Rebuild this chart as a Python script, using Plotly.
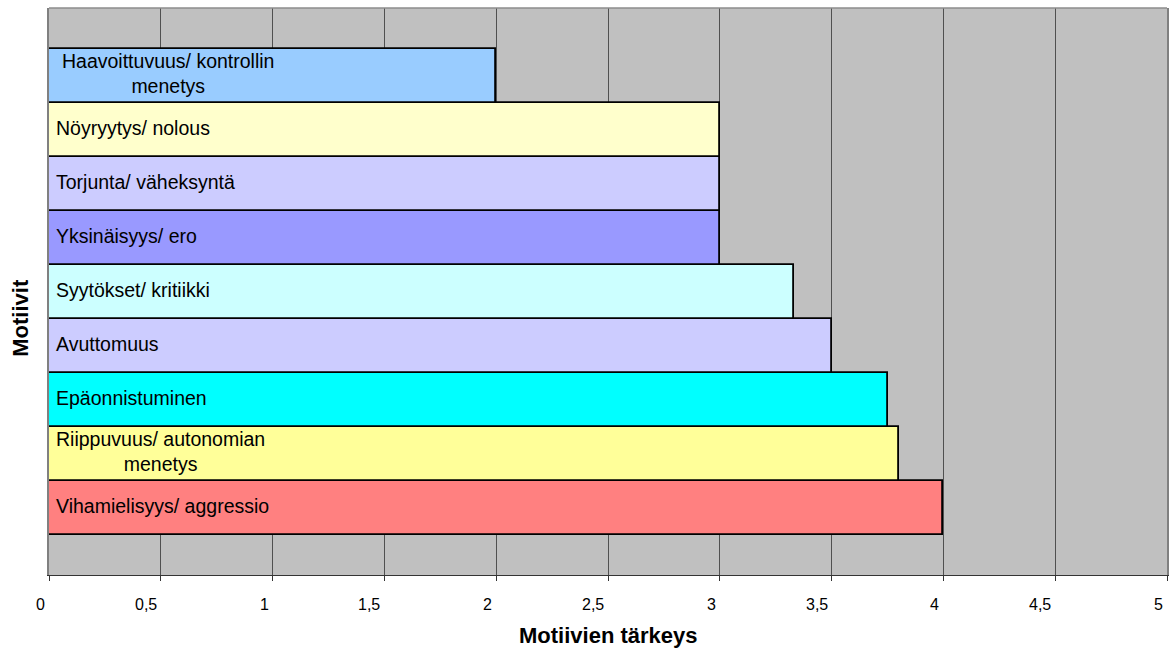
import plotly.graph_objects as go

# Motive categories (bottom to top) and their importance scores
motives = [
    "Vihamielisyys/ aggressio",
    "Riippuvuus/ autonomian<br>menetys",
    "Epäonnistuminen",
    "Avuttomuus",
    "Syytökset/ kritiikki",
    "Yksinäisyys/ ero",
    "Torjunta/ väheksyntä",
    "Nöyryytys/ nolous",
    "Haavoittuvuus/ kontrollin<br>menetys",
]
importance = [4.0, 3.8, 3.75, 3.5, 3.33, 3.0, 3.0, 3.0, 2.0]
bar_colors = [
    "#FF8080", "#FFFF99", "#00FFFF", "#CCCCFF", "#CCFFFF",
    "#9999FF", "#CCCCFF", "#FFFFCC", "#99CCFF",
]
tick_values = [0, 0.5, 1, 1.5, 2, 2.5, 3, 3.5, 4, 4.5, 5]
tick_labels = ["0", "0,5", "1", "1,5", "2", "2,5", "3", "3,5", "4", "4,5", "5"]

FONT = "Liberation Sans, Arial, sans-serif"

fig = go.Figure(
    go.Bar(
        x=importance,
        y=list(range(len(motives))),
        orientation="h",
        width=1,
        marker=dict(color=bar_colors, line=dict(color="#000000", width=1.8)),
        hoverinfo="skip",
    )
)

annotations = []
# Motive names written inside the bars
for i, name in enumerate(motives):
    annotations.append(dict(
        x=0, y=i, xref="x", yref="y",
        text=name, showarrow=False,
        xanchor="left", yanchor="middle", align="center",
        xshift=11 if name.startswith("Haavoittuvuus") else 5,
        yshift=2,
        font=dict(family=FONT, size=19.5, color="#000000"),
    ))
# Value-axis labels, right-aligned just left of each tick
for v, t in zip(tick_values, tick_labels):
    annotations.append(dict(
        x=v, y=0, xref="x", yref="paper",
        text=t, showarrow=False,
        xanchor="right", yanchor="middle",
        xshift=-2, yshift=-29,
        font=dict(family=FONT, size=16, color="#000000"),
    ))
# Axis titles
annotations.append(dict(
    x=0.5, y=0, xref="paper", yref="paper",
    text="<b>Motiivien tärkeys</b>", showarrow=False,
    xanchor="center", yanchor="middle", yshift=-60,
    font=dict(family=FONT, size=22, color="#000000"),
))
annotations.append(dict(
    x=0, y=0.4537, xref="paper", yref="paper",
    text="<b>Motiivit</b>", showarrow=False, textangle=-90,
    xanchor="center", yanchor="middle", xshift=-28,
    font=dict(family=FONT, size=22, color="#000000"),
))

fig.update_layout(
    width=1172, height=650,
    margin=dict(l=49, r=3, t=8, b=75),
    paper_bgcolor="#FFFFFF",
    plot_bgcolor="#C0C0C0",
    bargap=0,
    showlegend=False,
    annotations=annotations,
    shapes=[dict(
        type="line", xref="paper", yref="paper",
        x0=0, x1=1, y0=1, y1=1,
        line=dict(color="#8C8C8C", width=1.5),
    )],
)

fig.update_xaxes(
    range=[0, 5],
    tickvals=tick_values,
    showticklabels=False,
    ticks="outside", ticklen=5, tickcolor="#333333", tickwidth=1,
    showgrid=True, gridcolor="#505050", gridwidth=1.4,
    zeroline=False,
    showline=True, linecolor="#333333", linewidth=1.2,
    layer="below traces",
)
fig.update_yaxes(
    range=[-1.25, 9.26],
    showticklabels=False, ticks="",
    showgrid=False, zeroline=False,
    showline=True, mirror=True, linecolor="#808080", linewidth=1.5,
    layer="below traces",
)

fig.write_html("out.html")
